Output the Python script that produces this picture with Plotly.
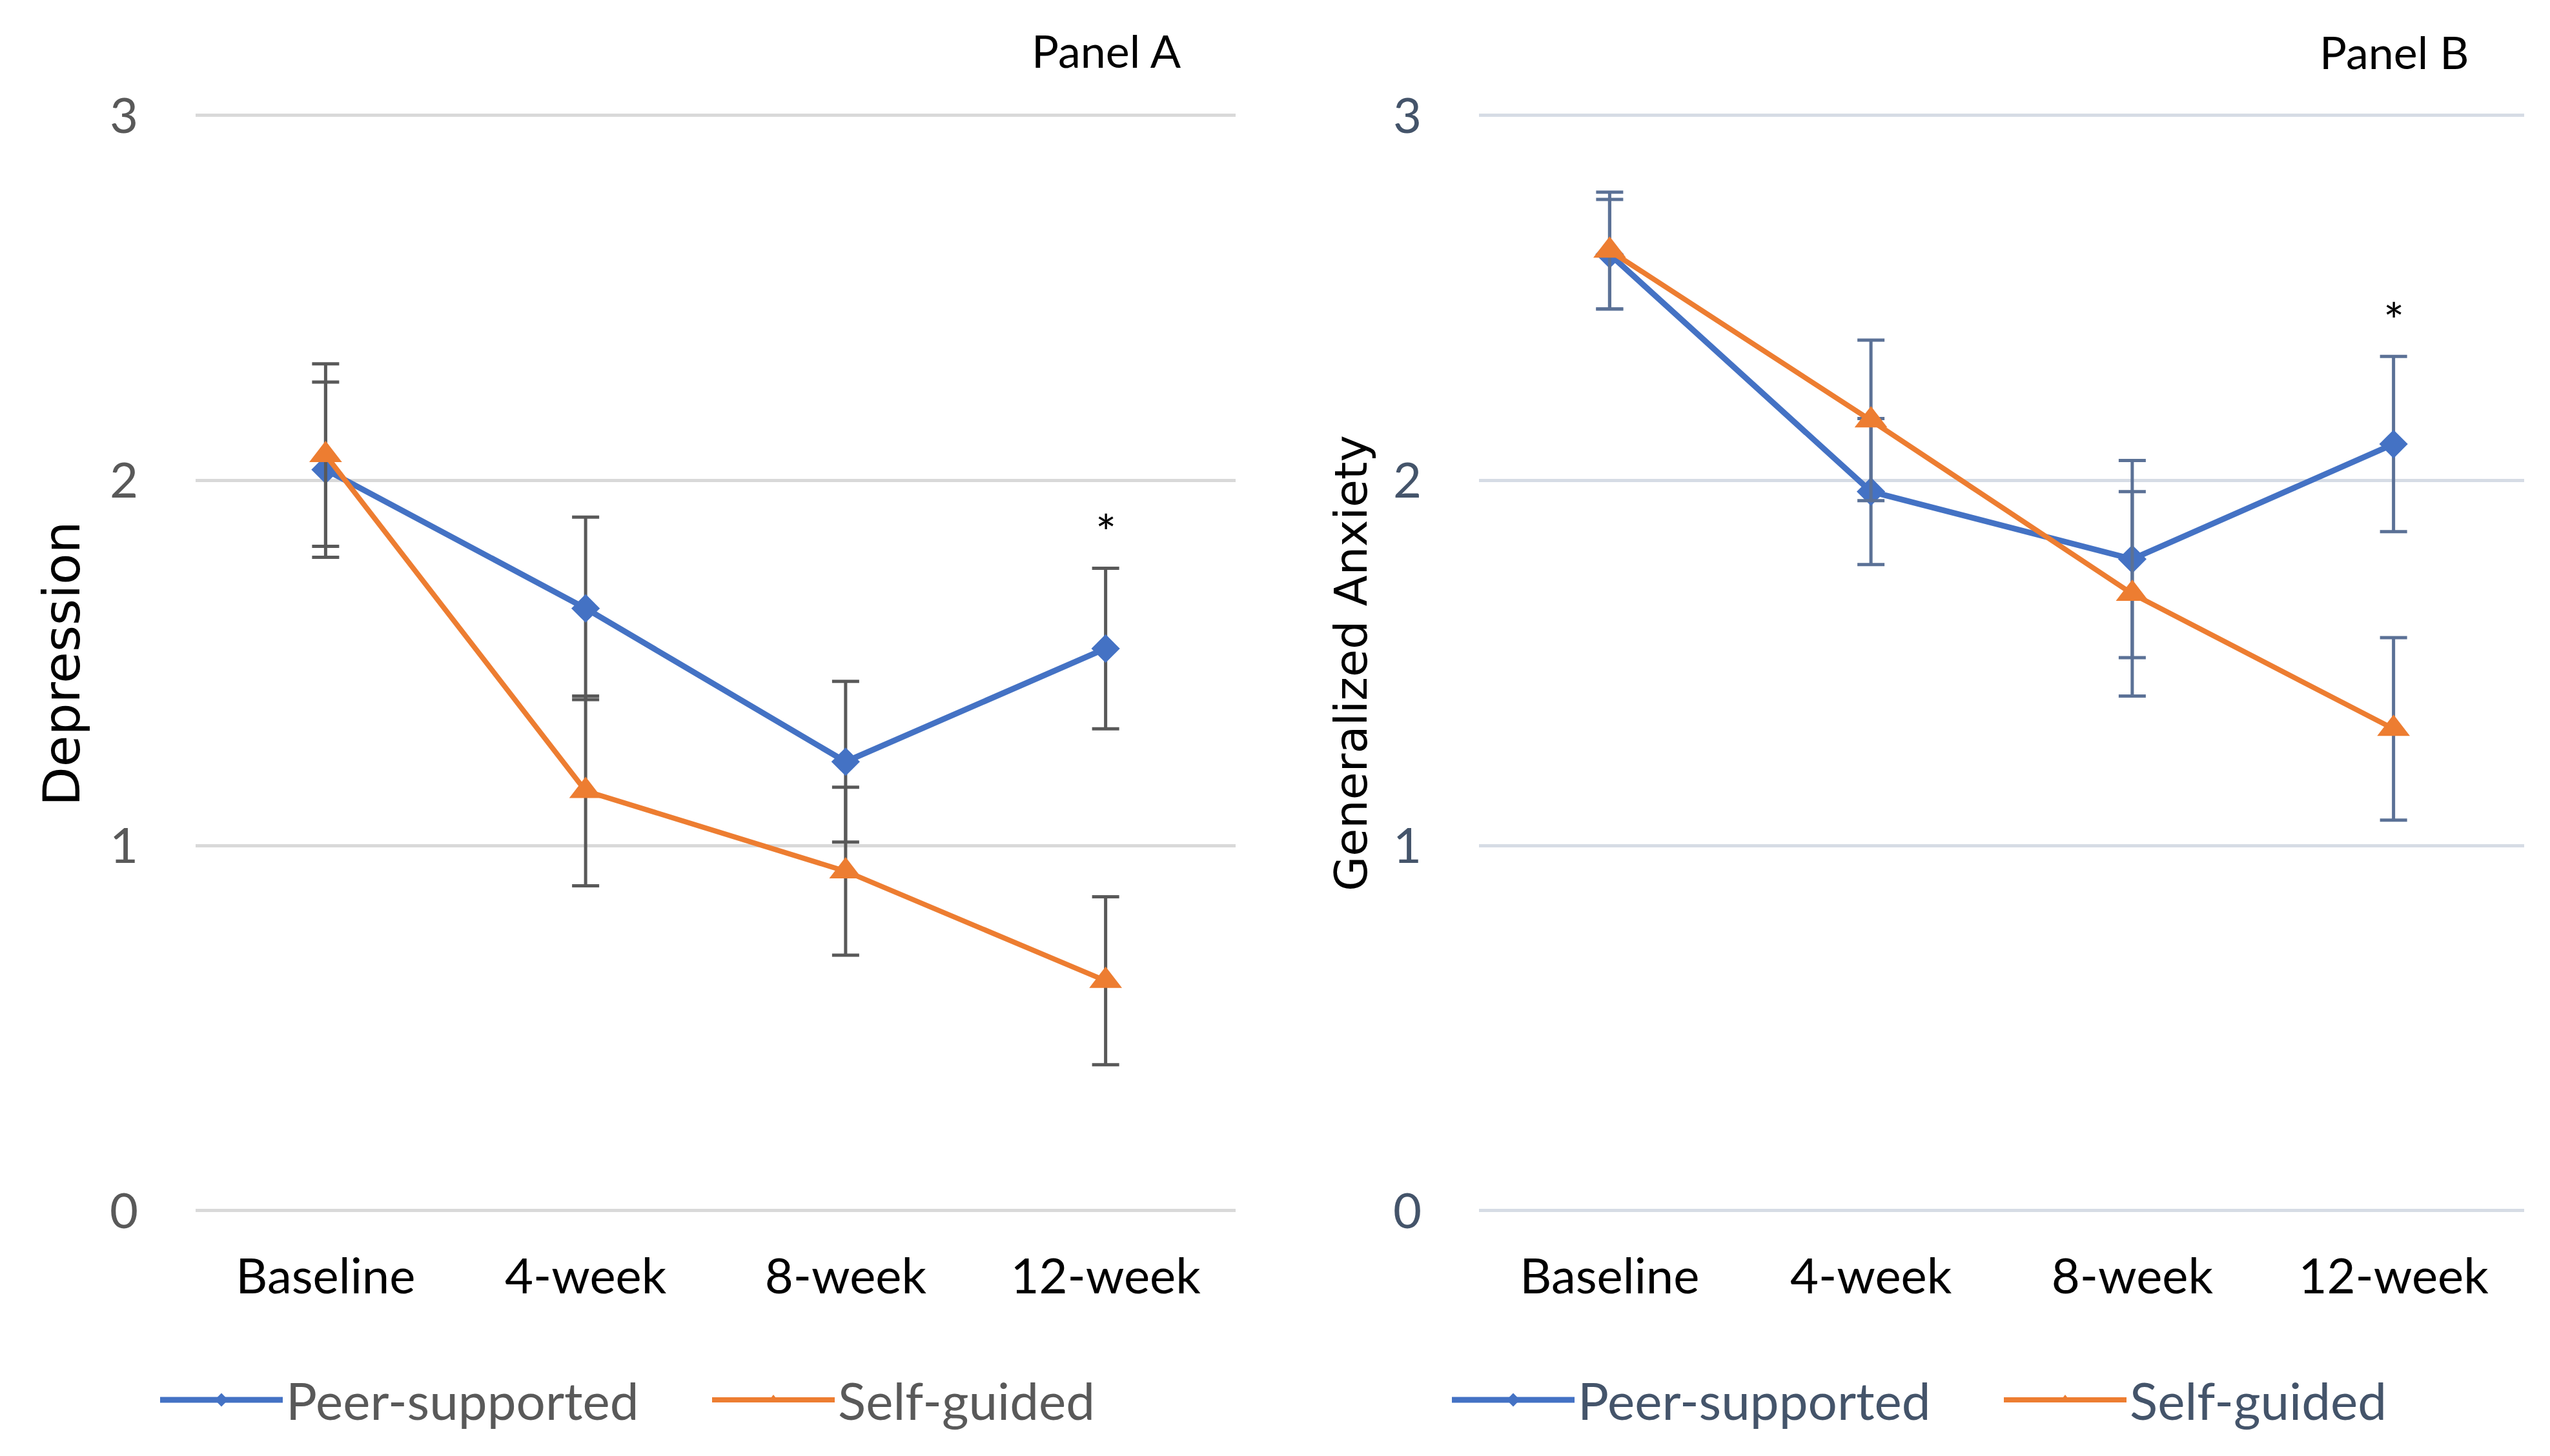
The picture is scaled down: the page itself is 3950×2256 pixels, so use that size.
import plotly.graph_objects as go

# ---------------- data ----------------
categories = ["Baseline", "4-week", "8-week", "12-week"]

dep_peer = [2.03, 1.65, 1.23, 1.54]
dep_peer_err = [0.24, 0.25, 0.22, 0.22]
dep_self = [2.07, 1.15, 0.93, 0.63]
dep_self_err = [0.25, 0.26, 0.23, 0.23]

anx_peer = [2.62, 1.97, 1.785, 2.10]
anx_peer_err = [0.15, 0.20, 0.27, 0.24]
anx_self = [2.63, 2.165, 1.69, 1.32]
anx_self_err = [0.16, 0.22, 0.28, 0.25]

star_category = "12-week"
star_y_dep = 1.86
star_y_anx = 2.44

y_ticks = [0, 1, 2, 3]

# ---------------- styles ----------------
BLUE = "#4472C4"
ORANGE = "#ED7D31"
ERR_A = "#595959"
ERR_B = "#5B7196"
TXT_A = "#595959"
TXT_B = "#44546A"
GRID_A = "#D9D9D9"
GRID_B = "#D6DCE5"
TICK_FONT = "Lato"
TITLE_FONT = "DejaVu Sans"

W, H = 3950, 2256
PAD = 0.02                      # small range padding so edge gridlines show
PX_PER_UNIT = (1868 - 171) / 3.0

fig = go.Figure()


def add_panel(xa, ya, legend, peer, peer_err, self_, self_err, errcol):
    fig.add_trace(go.Scatter(
        x=categories, y=peer, name="Peer-supported", mode="lines+markers",
        xaxis=xa, yaxis=ya, legend=legend,
        line=dict(color=BLUE, width=9),
        marker=dict(symbol="diamond", size=34, color=BLUE),
        error_y=dict(type="data", array=peer_err, visible=True,
                     color=errcol, thickness=5, width=21),
    ))
    fig.add_trace(go.Scatter(
        x=categories, y=self_, name="Self-guided", mode="lines+markers",
        xaxis=xa, yaxis=ya, legend=legend,
        line=dict(color=ORANGE, width=8),
        marker=dict(symbol="triangle-up", size=44, color=ORANGE),
        error_y=dict(type="data", array=self_err, visible=True,
                     color=errcol, thickness=5, width=21),
    ))


add_panel("x", "y", "legend", dep_peer, dep_peer_err, dep_self, dep_self_err, ERR_A)
add_panel("x2", "y2", "legend2", anx_peer, anx_peer_err, anx_self, anx_self_err, ERR_B)

pad_px = PAD * PX_PER_UNIT
y_bot = 1 - (1868 + pad_px) / H
y_top = 1 - (171 - pad_px) / H


def xaxis_style(domain, anchor):
    return dict(type="category", range=[-0.5, 3.5], showgrid=False, zeroline=False,
                showline=False, ticks="", ticklabelstandoff=40, automargin=False,
                tickfont=dict(family=TICK_FONT, size=76, color="#000000"),
                domain=domain, anchor=anchor)


def yaxis_style(anchor, grid, txt):
    return dict(domain=[y_bot, y_top], range=[-PAD, 3 + PAD], tickvals=y_ticks,
                showgrid=True, gridcolor=grid, gridwidth=5, zeroline=False,
                showline=False, ticks="", ticklabelstandoff=88, anchor=anchor,
                automargin=False,
                tickfont=dict(family=TICK_FONT, size=76, color=txt))


fig.update_layout(
    width=W, height=H,
    paper_bgcolor="white", plot_bgcolor="white",
    margin=dict(l=0, r=0, t=0, b=0, pad=0, autoexpand=False),
    xaxis=xaxis_style([295 / W, 1906 / W], "y"),
    xaxis2=xaxis_style([2283 / W, 3902 / W], "y2"),
    yaxis=yaxis_style("x", GRID_A, TXT_A),
    yaxis2=yaxis_style("x2", GRID_B, TXT_B),
    legend=dict(orientation="h", x=235 / W, xanchor="left", y=1 - 2161 / H,
                yanchor="middle", itemwidth=190, entrywidth=650,
                font=dict(family=TICK_FONT, size=80, color=TXT_A),
                bgcolor="rgba(0,0,0,0)"),
    legend2=dict(orientation="h", x=2236 / W, xanchor="left", y=1 - 2161 / H,
                 yanchor="middle", itemwidth=190, entrywidth=650,
                 font=dict(family=TICK_FONT, size=80, color=TXT_B),
                 bgcolor="rgba(0,0,0,0)"),
    showlegend=True,
)

annotations = [
    dict(text="Depression", xref="paper", yref="paper", x=88 / W, y=1 - 1020 / H,
         textangle=-90, showarrow=False, xanchor="center", yanchor="middle",
         font=dict(family=TITLE_FONT, size=79, color="#000000")),
    dict(text="Generalized Anxiety", xref="paper", yref="paper", x=2085 / W, y=1 - 1020 / H,
         textangle=-90, showarrow=False, xanchor="center", yanchor="middle",
         font=dict(family=TITLE_FONT, size=70, color="#000000")),
    dict(text="Panel A", xref="paper", yref="paper", x=1706 / W, y=1 - 70 / H,
         showarrow=False, xanchor="center", yanchor="middle",
         font=dict(family=TICK_FONT, size=70, color="#000000")),
    dict(text="Panel B", xref="paper", yref="paper", x=3700 / W, y=1 - 72 / H,
         showarrow=False, xanchor="center", yanchor="middle",
         font=dict(family=TICK_FONT, size=70, color="#000000")),
    dict(text="*", xref="x", yref="y", x=star_category, y=star_y_dep,
         showarrow=False, xanchor="center", yanchor="middle",
         font=dict(family=TICK_FONT, size=76, color="#000000")),
    dict(text="*", xref="x2", yref="y2", x=star_category, y=star_y_anx,
         showarrow=False, xanchor="center", yanchor="middle",
         font=dict(family=TICK_FONT, size=76, color="#000000")),
]
fig.update_layout(annotations=annotations)

fig.write_html("out.html")
